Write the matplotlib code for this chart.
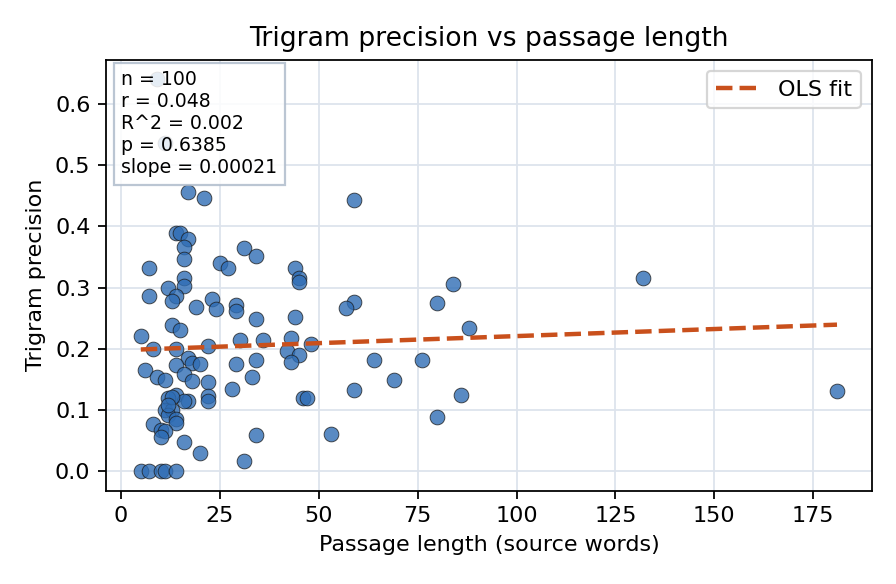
import numpy as np
import matplotlib
matplotlib.use("Agg")
import matplotlib.pyplot as plt

# passage length (source words) and trigram precision
passage_len = [181, 132, 84, 59, 59, 57, 80, 88, 64, 76,
               69, 59, 86, 80, 53, 21, 31, 34, 25, 27,
               44, 45, 45, 23, 24, 29, 29, 34, 44, 22,
               30, 36, 43, 48, 42, 45, 43, 29, 34, 33,
               22, 28, 22, 22, 46, 47, 34, 31, 17, 14,
               15, 17, 16, 16, 7, 16, 16, 12, 7, 14,
               13, 19, 13, 15, 5, 8, 14, 17, 18, 20,
               14, 6, 9, 11, 16, 18, 14, 12, 17, 16,
               11, 13, 12, 14, 14, 8, 10, 11, 10, 16,
               20, 5, 7, 10, 11, 14, 9, 11, 13, 12]
precision = [0.131, 0.316, 0.306, 0.444, 0.277, 0.267, 0.275, 0.234, 0.181, 0.181,
             0.149, 0.133, 0.124, 0.088, 0.061, 0.447, 0.365, 0.352, 0.340, 0.332,
             0.332, 0.316, 0.309, 0.282, 0.265, 0.271, 0.261, 0.249, 0.252, 0.205,
             0.215, 0.215, 0.218, 0.208, 0.197, 0.189, 0.178, 0.175, 0.182, 0.154,
             0.146, 0.134, 0.123, 0.114, 0.120, 0.120, 0.059, 0.017, 0.457, 0.389,
             0.389, 0.380, 0.366, 0.346, 0.332, 0.316, 0.302, 0.300, 0.286, 0.286,
             0.278, 0.269, 0.238, 0.230, 0.221, 0.199, 0.199, 0.185, 0.176, 0.175,
             0.174, 0.166, 0.154, 0.149, 0.159, 0.147, 0.125, 0.119, 0.115, 0.114,
             0.100, 0.100, 0.092, 0.085, 0.079, 0.077, 0.067, 0.066, 0.056, 0.047,
             0.029, 0.000, 0.000, 0.000, 0.000, 0.000, 0.641, 0.537, 0.121, 0.108]

stats_lines = ["n = 100", "r = 0.048", "R^2 = 0.002", "p = 0.6385", "slope = 0.00021"]

x = np.array(passage_len, dtype=float)
y = np.array(precision)

fig, ax = plt.subplots(figsize=(5.6, 3.65), dpi=160)
fig.subplots_adjust(left=0.1183, right=0.973, top=0.898, bottom=0.16)

ax.scatter(x, y, s=44, color="#2f6db5", alpha=0.8, edgecolor="#1a1a1a",
           linewidth=0.4, zorder=3)

slope, intercept = np.polyfit(x, y, 1)
xs = np.array([x.min(), x.max()])
ax.plot(xs, intercept + slope * xs, "--", color="#c9501c", lw=2, label="OLS fit", zorder=4)

ax.grid(True, color="#dde3ec", lw=0.8)
ax.set_axisbelow(True)
ax.set_title("Trigram precision vs passage length", fontsize=12)
ax.set_xlabel("Passage length (source words)", fontsize=10)
ax.set_ylabel("Trigram precision", fontsize=10)
ax.tick_params(labelsize=10)
ax.legend(loc="upper right", fontsize=10)

ax.text(0.02, 0.975, "\n".join(stats_lines), transform=ax.transAxes,
        va="top", ha="left", fontsize=8.5, zorder=5,
        bbox=dict(boxstyle="square,pad=0.4", facecolor="white", alpha=0.85,
                  edgecolor="#b0bccc"))

fig.savefig("out.png", dpi=160)
